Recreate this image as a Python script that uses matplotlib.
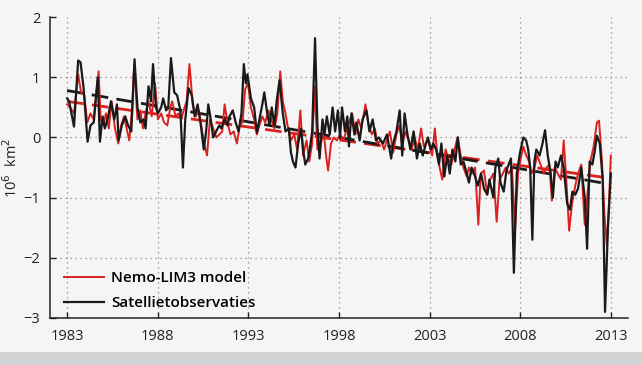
import matplotlib.pyplot as plt
import numpy as np
from matplotlib.patches import Rectangle

obs_years = [1983.00, 1983.11, 1983.38, 1983.61, 1983.74, 1983.90, 1984.13, 1984.29, 1984.47, 1984.69,
             1984.81, 1984.96, 1985.08, 1985.23, 1985.42, 1985.60, 1985.75, 1985.84, 1986.02, 1986.21,
             1986.36, 1986.54, 1986.72, 1986.88, 1987.04, 1987.22, 1987.33, 1987.49, 1987.63, 1987.74,
             1987.90, 1988.01, 1988.19, 1988.30, 1988.46, 1988.58, 1988.73, 1988.91, 1989.07, 1989.25,
             1989.39, 1989.52, 1989.70, 1989.88, 1990.04, 1990.20, 1990.38, 1990.54, 1990.67, 1990.79,
             1990.90, 1991.06, 1991.22, 1991.40, 1991.51, 1991.69, 1991.85, 1991.96, 1992.14, 1992.30,
             1992.46, 1992.62, 1992.75, 1992.86, 1992.95, 1993.14, 1993.32, 1993.47, 1993.61, 1993.77,
             1993.88, 1994.04, 1994.17, 1994.29, 1994.44, 1994.56, 1994.72, 1994.90, 1995.05, 1995.23,
             1995.35, 1995.46, 1995.60, 1995.75, 1995.91, 1996.02, 1996.14, 1996.30, 1996.41, 1996.52,
             1996.68, 1996.81, 1996.93, 1997.09, 1997.20, 1997.33, 1997.49, 1997.65, 1997.79, 1997.94,
             1998.06, 1998.17, 1998.33, 1998.46, 1998.55, 1998.69, 1998.85, 1998.96, 1999.14, 1999.30,
             1999.52, 1999.68, 1999.86, 2000.04, 2000.20, 2000.43, 2000.65, 2000.88, 2000.99, 2001.17,
             2001.35, 2001.49, 2001.62, 2001.78, 2001.94, 2002.12, 2002.30, 2002.46, 2002.62, 2002.80,
             2002.91, 2003.07, 2003.20, 2003.36, 2003.52, 2003.65, 2003.81, 2003.97, 2004.11, 2004.26,
             2004.42, 2004.56, 2004.72, 2004.87, 2005.05, 2005.17, 2005.32, 2005.51, 2005.66, 2005.84,
             2006.00, 2006.18, 2006.30, 2006.41, 2006.52, 2006.63, 2006.79, 2006.91, 2007.09, 2007.24,
             2007.36, 2007.49, 2007.65, 2007.81, 2007.99, 2008.17, 2008.33, 2008.44, 2008.55, 2008.67,
             2008.78, 2008.89, 2009.07, 2009.23, 2009.37, 2009.52, 2009.68, 2009.80, 2009.95, 2010.07,
             2010.25, 2010.40, 2010.59, 2010.74, 2010.88, 2011.04, 2011.19, 2011.37, 2011.56, 2011.69,
             2011.83, 2011.98, 2012.10, 2012.23, 2012.39, 2012.55, 2012.68, 2012.84, 2013.00]
obs_values = [0.65, 0.60, 0.18, 1.28, 1.25, 0.85, -0.07, 0.20, 0.25, 1.00,
              -0.07, 0.35, 0.15, 0.30, 0.60, 0.30, 0.55, -0.05, 0.20, 0.35,
              0.20, 0.10, 1.30, 0.50, 0.25, 0.30, 0.15, 0.85, 0.60, 1.22,
              0.50, 0.40, 0.50, 0.65, 0.45, 0.50, 1.32, 0.75, 0.70, 0.45,
              -0.50, 0.30, 0.82, 0.70, 0.35, 0.55, 0.20, -0.20, 0.10, 0.55,
              0.35, 0.00, 0.10, 0.20, 0.15, 0.30, 0.20, 0.35, 0.45, 0.25,
              0.10, 0.40, 1.22, 0.90, 1.05, 0.65, 0.50, 0.08, 0.30, 0.55,
              0.75, 0.40, 0.20, 0.50, 0.20, 0.60, 0.95, 0.40, 0.10, 0.15,
              -0.25, -0.40, -0.50, -0.10, 0.15, -0.20, -0.45, -0.35, -0.15, 0.10,
              1.65, 0.20, -0.35, 0.30, 0.05, 0.35, 0.05, 0.50, 0.10, 0.45,
              0.00, 0.50, 0.10, 0.35, -0.15, 0.40, 0.05, 0.25, -0.05, 0.30,
              0.45, 0.10, 0.30, -0.05, 0.00, -0.10, 0.05, -0.35, -0.10, 0.10,
              0.45, -0.30, 0.40, 0.05, -0.20, 0.10, -0.35, -0.10, -0.30, -0.10,
              0.00, -0.20, -0.10, -0.20, -0.45, -0.10, -0.65, -0.30, -0.60, -0.20,
              -0.40, 0.00, -0.45, -0.40, -0.60, -0.75, -0.50, -0.65, -0.80, -0.60,
              -0.85, -0.95, -0.70, -0.85, -1.00, -0.50, -0.35, -0.75, -0.90, -0.55,
              -0.45, -0.35, -2.25, -0.60, -0.25, 0.00, -0.05, -0.20, -0.50, -1.70,
              -0.40, -0.20, -0.30, -0.10, 0.12, -0.30, -0.60, -1.00, -0.40, -0.50,
              -0.30, -0.50, -1.10, -1.20, -0.90, -0.95, -0.85, -0.50, -1.00, -1.85,
              -0.40, -0.45, -0.25, 0.03, -0.10, -0.70, -2.90, -1.50, -0.60]

# Nemo-LIM3 model (red)
model_years = [1983.00, 1983.16, 1983.38, 1983.61, 1983.77, 1983.95, 1984.11, 1984.29, 1984.47, 1984.63,
               1984.74, 1984.85, 1985.01, 1985.14, 1985.30, 1985.46, 1985.64, 1985.82, 1985.98, 1986.14,
               1986.32, 1986.43, 1986.59, 1986.70, 1986.88, 1987.04, 1987.18, 1987.33, 1987.49, 1987.67,
               1987.85, 1988.01, 1988.19, 1988.35, 1988.53, 1988.69, 1988.80, 1988.98, 1989.14, 1989.30,
               1989.43, 1989.59, 1989.75, 1989.93, 1990.09, 1990.27, 1990.43, 1990.56, 1990.72, 1990.88,
               1991.06, 1991.24, 1991.40, 1991.56, 1991.69, 1991.85, 1992.01, 1992.19, 1992.37, 1992.53,
               1992.68, 1992.82, 1992.98, 1993.14, 1993.32, 1993.47, 1993.61, 1993.77, 1993.93, 1994.11,
               1994.26, 1994.44, 1994.60, 1994.76, 1994.90, 1995.05, 1995.19, 1995.35, 1995.53, 1995.69,
               1995.87, 1996.02, 1996.21, 1996.36, 1996.52, 1996.66, 1996.81, 1996.97, 1997.15, 1997.31,
               1997.40, 1997.56, 1997.72, 1997.88, 1998.06, 1998.24, 1998.40, 1998.55, 1998.73, 1998.91,
               1999.07, 1999.23, 1999.46, 1999.64, 1999.82, 1999.98, 2000.13, 2000.31, 2000.49, 2000.65,
               2000.81, 2000.99, 2001.17, 2001.33, 2001.49, 2001.67, 2001.85, 2002.01, 2002.17, 2002.35,
               2002.53, 2002.68, 2002.91, 2003.14, 2003.29, 2003.43, 2003.59, 2003.70, 2003.88, 2004.04,
               2004.20, 2004.38, 2004.54, 2004.72, 2004.87, 2005.05, 2005.17, 2005.32, 2005.51, 2005.69,
               2005.82, 2006.00, 2006.18, 2006.34, 2006.52, 2006.70, 2006.86, 2007.04, 2007.20, 2007.36,
               2007.54, 2007.72, 2007.88, 2008.03, 2008.17, 2008.33, 2008.49, 2008.62, 2008.78, 2008.94,
               2009.12, 2009.30, 2009.46, 2009.61, 2009.75, 2009.91, 2010.07, 2010.25, 2010.40, 2010.54,
               2010.70, 2010.86, 2011.04, 2011.19, 2011.37, 2011.56, 2011.72, 2011.87, 2012.05, 2012.23,
               2012.35, 2012.51, 2012.65, 2012.78, 2012.91, 2013.00]
model_values = [0.55, 0.50, 0.40, 1.05, 0.75, 0.70, 0.25, 0.40, 0.30, 0.80,
                1.10, 0.30, 0.20, 0.40, 0.15, 0.60, 0.15, -0.10, 0.20, 0.35,
                0.10, -0.05, 0.50, 1.22, 0.30, 0.45, 0.15, 0.40, 0.60, 0.35,
                0.90, 0.30, 0.40, 0.25, 0.20, 0.50, 0.60, 0.35, 0.40, 0.30,
                0.45, 0.60, 1.22, 0.55, 0.35, 0.45, 0.15, -0.10, -0.30, 0.30,
                0.15, 0.00, 0.05, 0.10, 0.55, 0.25, 0.05, 0.10, -0.10, 0.20,
                0.25, 0.80, 0.90, 0.50, 0.30, 0.05, 0.20, 0.35, 0.25, 0.45,
                0.30, 0.15, 0.40, 1.10, 0.60, 0.40, 0.15, -0.05, 0.05, -0.20,
                0.45, -0.30, -0.05, -0.40, -0.10, 0.85, -0.20, -0.15, 0.10, -0.35,
                -0.55, -0.10, 0.00, -0.05, 0.05, -0.05, 0.10, 0.25, 0.40, 0.05,
                0.30, 0.15, 0.55, 0.20, 0.05, 0.15, -0.10, -0.05, -0.20, -0.05,
                0.10, -0.25, 0.05, 0.20, -0.10, 0.10, -0.05, -0.20, 0.00, -0.20,
                0.15, -0.15, -0.05, -0.30, 0.15, -0.30, -0.55, -0.70, -0.20, -0.35,
                -0.45, -0.20, 0.00, -0.30, -0.50, -0.65, -0.50, -0.60, -0.50, -1.45,
                -0.60, -0.55, -0.95, -0.70, -0.60, -1.40, -0.70, -0.60, -0.50, -0.60,
                -0.50, -1.50, -0.60, -0.35, -0.15, -0.30, -0.40, -0.60, -0.50, -0.30,
                -0.45, -0.60, -0.50, -0.45, -1.05, -0.50, -0.60, -0.70, -0.05, -0.70,
                -1.55, -1.10, -0.80, -0.60, -0.45, -1.45, -0.90, -0.40, -0.15, 0.25,
                0.28, -0.40, -1.30, -1.80, -1.00, -0.30]

# linear trends (dashed), start/end values
trend_years = [1983.0, 2013.0]
obs_trend = [0.78, -0.78]
model_trend = [0.60, -0.68]

xticks = [1983, 1988, 1993, 1998, 2003, 2008, 2013]
yticks = [-3, -2, -1, 0, 1, 2]

plt.rcParams['font.family'] = ['Open Sans', 'DejaVu Sans']

fig = plt.figure(figsize=(6.42, 3.65), dpi=100, facecolor='#f5f5f6')
fig.patches.append(Rectangle((0, 0), 1, 0.035, transform=fig.transFigure,
                             facecolor='#d2d2d5', edgecolor='none', zorder=0))
ax = fig.add_axes([0.078, 0.129, 0.900, 0.824])
ax.set_facecolor('none')

red = '#d9221f'
black = '#1a1a1a'

ax.plot(trend_years, model_trend, color=red, lw=2.0, dashes=(6, 3))
ax.plot(trend_years, obs_trend, color=black, lw=2.0, dashes=(6, 3))
ax.plot(model_years, model_values, color=red, lw=1.4, label='Nemo-LIM3 model')
ax.plot(obs_years, obs_values, color=black, lw=1.6, label='Satellietobservaties')

ax.set_xlim(1982.06, 2013.94)
ax.set_ylim(-3, 2)
ax.set_xticks(xticks)
ax.set_yticks(yticks)
ax.tick_params(direction='in', length=4, width=1, labelsize=10.5, colors='#222222')
ax.tick_params(axis='x', pad=8)
ax.tick_params(axis='y', pad=7)

# dotted grid, no line on the top/bottom limits
for v in [-2, -1, 0, 1]:
    ax.axhline(v, color='#888888', lw=0.9, ls=(0, (1, 3)), zorder=0)
for v in xticks:
    ax.axvline(v, color='#888888', lw=0.9, ls=(0, (1, 3)), zorder=0)

for s in ['top', 'right']:
    ax.spines[s].set_visible(False)
for s in ['left', 'bottom']:
    ax.spines[s].set_linewidth(1.1)
    ax.spines[s].set_color('#222222')

ax.set_ylabel('10$^6$  km$^2$', fontsize=10.5, labelpad=2, color='#222222')

leg = ax.legend(loc='lower left', bbox_to_anchor=(0.0, -0.02), frameon=False,
                handlelength=2.6, handletextpad=0.5, labelspacing=0.7,
                prop={'size': 11, 'weight': 'semibold'})

fig.savefig('out.png', dpi=100, facecolor=fig.get_facecolor())
